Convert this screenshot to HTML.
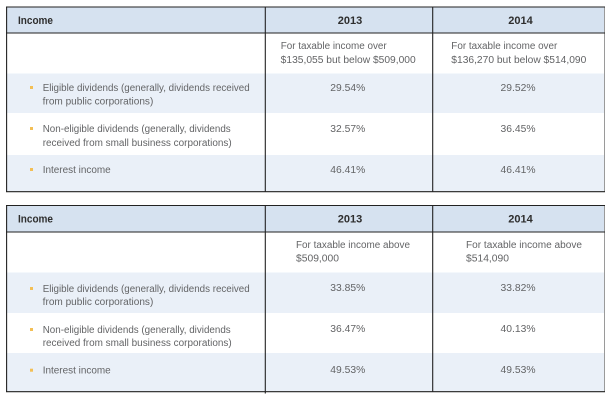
<!DOCTYPE html>
<html><head><meta charset="utf-8"><style>
html,body{margin:0;padding:0;background:#fff;}
svg{display:block;}
text{font-family:"Liberation Sans",Arial,sans-serif;}
.t{font-size:10px;fill:#636466;}
.h{font-size:11px;font-weight:bold;fill:#2e2e2e;}
</style></head><body>
<svg width="614" height="401" viewBox="0 0 614 401" xmlns="http://www.w3.org/2000/svg">
<rect width="614" height="401" fill="#fff"/>
<!-- TOP TABLE -->
<rect x="6.5" y="7" width="598.5" height="26" fill="#d6e2f0"/>
<rect x="6.5" y="73.5" width="598.5" height="39.5" fill="#eaf0f8"/>
<rect x="6.5" y="155" width="598.5" height="36.5" fill="#eaf0f8"/>
<line x1="604.5" y1="7" x2="604.5" y2="192" stroke="#9a9a9a" stroke-width="1"/>
<line x1="6" y1="7" x2="605" y2="7" stroke="#222" stroke-width="1.1"/>
<line x1="6" y1="33" x2="605" y2="33" stroke="#222" stroke-width="1.1"/>
<line x1="6" y1="191.7" x2="605" y2="191.7" stroke="#222" stroke-width="1.1"/>
<line x1="6.6" y1="7" x2="6.6" y2="192" stroke="#222" stroke-width="1.1"/>
<line x1="265.3" y1="7" x2="265.3" y2="192" stroke="#222" stroke-width="1.1"/>
<line x1="432.7" y1="7" x2="432.7" y2="192" stroke="#222" stroke-width="1.1"/>

<text class="h" x="18" y="24" textLength="35" lengthAdjust="spacingAndGlyphs">Income</text>
<text class="h" x="350" y="24" text-anchor="middle">2013</text>
<text class="h" x="520.5" y="24" text-anchor="middle">2014</text>

<text class="t" x="280.7" y="49.2" textLength="106" lengthAdjust="spacingAndGlyphs">For taxable income over</text>
<text class="t" x="280.7" y="62.8" textLength="135" lengthAdjust="spacingAndGlyphs">$135,055 but below $509,000</text>
<text class="t" x="451.3" y="49.2" textLength="106" lengthAdjust="spacingAndGlyphs">For taxable income over</text>
<text class="t" x="451.3" y="62.8" textLength="135" lengthAdjust="spacingAndGlyphs">$136,270 but below $514,090</text>

<rect x="30" y="86" width="3" height="3" fill="#f3bf55"/>
<text class="t" x="42.7" y="90.8" textLength="207" lengthAdjust="spacingAndGlyphs">Eligible dividends (generally, dividends received</text>
<text class="t" x="42.7" y="104.5" textLength="110.6" lengthAdjust="spacingAndGlyphs">from public corporations)</text>
<rect x="30" y="127" width="3" height="3" fill="#f3bf55"/>
<text class="t" x="42.7" y="131.8" textLength="188" lengthAdjust="spacingAndGlyphs">Non-eligible dividends (generally, dividends</text>
<text class="t" x="42.7" y="146.2" textLength="189" lengthAdjust="spacingAndGlyphs">received from small business corporations)</text>
<rect x="30" y="168" width="3" height="3" fill="#f3bf55"/>
<text class="t" x="42.7" y="172.8" textLength="68" lengthAdjust="spacingAndGlyphs">Interest income</text>

<text class="t" x="347.8" y="90.8" text-anchor="middle" textLength="35" lengthAdjust="spacingAndGlyphs">29.54%</text>
<text class="t" x="518" y="90.8" text-anchor="middle" textLength="35" lengthAdjust="spacingAndGlyphs">29.52%</text>
<text class="t" x="347.8" y="131.8" text-anchor="middle" textLength="35" lengthAdjust="spacingAndGlyphs">32.57%</text>
<text class="t" x="518" y="131.8" text-anchor="middle" textLength="35" lengthAdjust="spacingAndGlyphs">36.45%</text>
<text class="t" x="347.8" y="172.8" text-anchor="middle" textLength="35" lengthAdjust="spacingAndGlyphs">46.41%</text>
<text class="t" x="518" y="172.8" text-anchor="middle" textLength="35" lengthAdjust="spacingAndGlyphs">46.41%</text>

<!-- BOTTOM TABLE -->
<rect x="6.5" y="205.5" width="598.5" height="26.5" fill="#d6e2f0"/>
<rect x="6.5" y="272.5" width="598.5" height="40.5" fill="#eaf0f8"/>
<rect x="6.5" y="353" width="598.5" height="38.5" fill="#eaf0f8"/>
<line x1="604.5" y1="205.5" x2="604.5" y2="392" stroke="#9a9a9a" stroke-width="1"/>
<line x1="6" y1="205.5" x2="605" y2="205.5" stroke="#222" stroke-width="1.1"/>
<line x1="6" y1="232" x2="605" y2="232" stroke="#222" stroke-width="1.1"/>
<line x1="6" y1="391.7" x2="605" y2="391.7" stroke="#222" stroke-width="1.1"/>
<line x1="6.6" y1="205.5" x2="6.6" y2="392" stroke="#222" stroke-width="1.1"/>
<line x1="265.3" y1="205.5" x2="265.3" y2="393.5" stroke="#222" stroke-width="1.1"/>
<line x1="432.7" y1="205.5" x2="432.7" y2="392" stroke="#222" stroke-width="1.1"/>

<text class="h" x="18" y="222.5" textLength="35" lengthAdjust="spacingAndGlyphs">Income</text>
<text class="h" x="350" y="222.5" text-anchor="middle">2013</text>
<text class="h" x="520.5" y="222.5" text-anchor="middle">2014</text>

<text class="t" x="296" y="248" textLength="114" lengthAdjust="spacingAndGlyphs">For taxable income above</text>
<text class="t" x="296" y="261.5" textLength="43" lengthAdjust="spacingAndGlyphs">$509,000</text>
<text class="t" x="466" y="248" textLength="116" lengthAdjust="spacingAndGlyphs">For taxable income above</text>
<text class="t" x="466" y="261.5" textLength="43" lengthAdjust="spacingAndGlyphs">$514,090</text>

<rect x="30" y="287" width="3" height="3" fill="#f3bf55"/>
<text class="t" x="42.7" y="291.8" textLength="207" lengthAdjust="spacingAndGlyphs">Eligible dividends (generally, dividends received</text>
<text class="t" x="42.7" y="305.2" textLength="110.6" lengthAdjust="spacingAndGlyphs">from public corporations)</text>
<rect x="30" y="328" width="3" height="3" fill="#f3bf55"/>
<text class="t" x="42.7" y="332.8" textLength="188" lengthAdjust="spacingAndGlyphs">Non-eligible dividends (generally, dividends</text>
<text class="t" x="42.7" y="346.2" textLength="189" lengthAdjust="spacingAndGlyphs">received from small business corporations)</text>
<rect x="30" y="368.7" width="3" height="3" fill="#f3bf55"/>
<text class="t" x="42.7" y="373.5" textLength="68" lengthAdjust="spacingAndGlyphs">Interest income</text>

<text class="t" x="347.8" y="290.8" text-anchor="middle" textLength="35" lengthAdjust="spacingAndGlyphs">33.85%</text>
<text class="t" x="518" y="290.8" text-anchor="middle" textLength="35" lengthAdjust="spacingAndGlyphs">33.82%</text>
<text class="t" x="347.8" y="331.8" text-anchor="middle" textLength="35" lengthAdjust="spacingAndGlyphs">36.47%</text>
<text class="t" x="518" y="331.8" text-anchor="middle" textLength="35" lengthAdjust="spacingAndGlyphs">40.13%</text>
<text class="t" x="347.8" y="372.8" text-anchor="middle" textLength="35" lengthAdjust="spacingAndGlyphs">49.53%</text>
<text class="t" x="518" y="372.8" text-anchor="middle" textLength="35" lengthAdjust="spacingAndGlyphs">49.53%</text>
</svg>
</body></html>
